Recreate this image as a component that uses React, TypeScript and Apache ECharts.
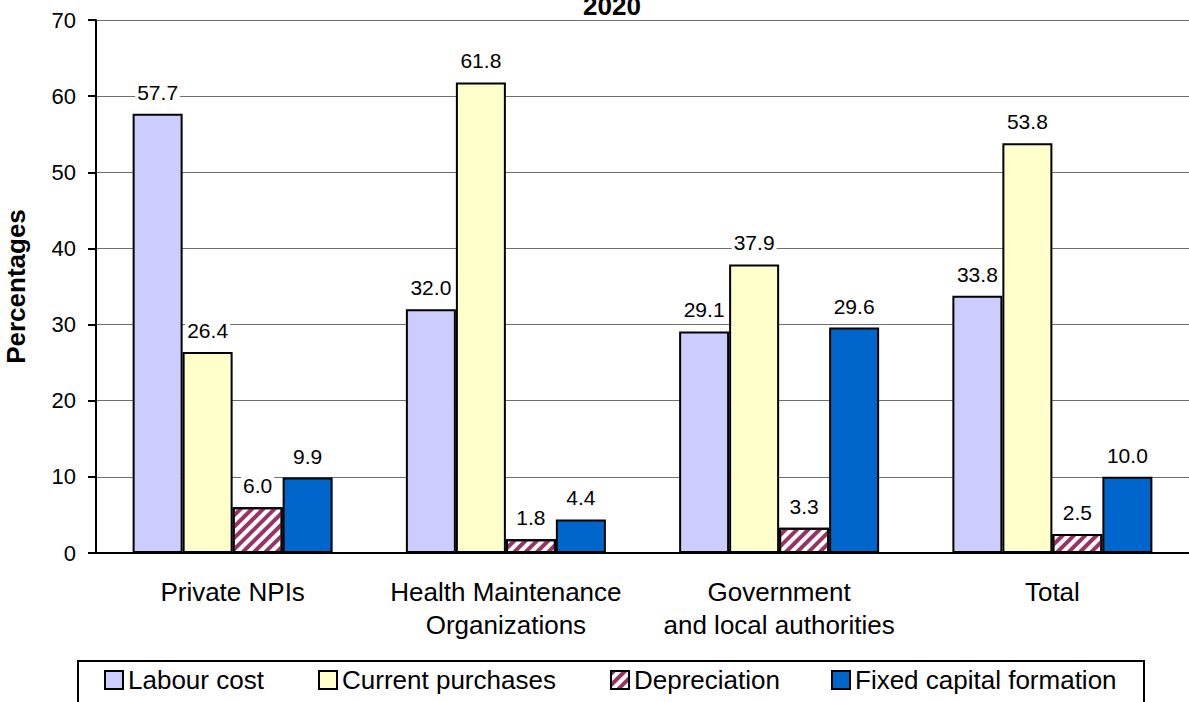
import React, { useEffect, useRef } from "react";
import * as echarts from "echarts";

const categories = [
  "Private NPIs",
  "Health Maintenance\nOrganizations",
  "Government\nand local authorities",
  "Total",
];
const labourCost = [57.7, 32.0, 29.1, 33.8];
const currentPurchases = [26.4, 61.8, 37.9, 53.8];
const depreciation = [6.0, 1.8, 3.3, 2.5];
const fixedCapital = [9.9, 4.4, 29.6, 10.0];
const seriesNames = ["Labour cost", "Current purchases", "Depreciation", "Fixed capital formation"];
const yTicks = { min: 0, max: 70, interval: 10 };
const titleText = "2020";
const yAxisTitle = "Percentages";

const FONT = "'Liberation Sans', Arial, sans-serif";

export default function App() {
  const ref = useRef<HTMLDivElement>(null);
  useEffect(() => {
    if (!ref.current) return;
    const chart = echarts.init(ref.current, null, { renderer: "svg" });
    const label = {
      show: true,
      position: "top" as const,
      distance: 10,
      fontSize: 21,
      fontFamily: FONT,
      color: "#000",
      backgroundColor: "#fff",
      padding: [1, 2],
      formatter: (p: any) => Number(p.value).toFixed(1),
    };
    const mk = (name: string, data: number[], itemStyle: any) => ({
      name,
      type: "bar",
      data,
      barWidth: 50,
      barGap: "0%",
      label,
      itemStyle: { borderColor: "#000", borderWidth: 2, ...itemStyle },
      emphasis: { disabled: true },
    });
    const legendLefts = [104, 318, 610, 831];
    const legends = seriesNames.map((n, i) => ({
      data: [n],
      left: legendLefts[i],
      top: 667,
      padding: 0,
      icon: "rect",
      itemWidth: 18,
      itemHeight: 18,
      textStyle: { fontSize: 26, fontFamily: FONT, color: "#000" },
    }));
    chart.setOption({
      animation: false,
      textStyle: { fontFamily: FONT },
      grid: {
        left: 96,
        right: 0,
        top: 20,
        bottom: 149,
        containLabel: false,
        outerBoundsMode: "none",
      },
      legend: legends,
      graphic: [
        {
          type: "text",
          x: 612,
          y: 6,
          style: {
            text: titleText,
            font: `bold 26px ${FONT}`,
            fill: "#000",
            textAlign: "center",
            textVerticalAlign: "middle",
          },
        },
        {
          type: "rect",
          shape: { x: 78, y: 661, width: 1066, height: 60 },
          style: { fill: "none", stroke: "#000", lineWidth: 2 },
          z: 10,
        },
      ],
      xAxis: {
        type: "category",
        data: categories,
        axisLine: { lineStyle: { color: "#000", width: 2 } },
        axisTick: { length: 10, lineStyle: { color: "#000", width: 2 } },
        axisLabel: {
          interval: 0,
          fontSize: 26,
          fontFamily: FONT,
          color: "#000",
          margin: 22,
          lineHeight: 33,
        },
      },
      yAxis: {
        type: "value",
        min: yTicks.min,
        max: yTicks.max,
        interval: yTicks.interval,
        name: yAxisTitle,
        nameLocation: "middle",
        nameGap: 67,
        nameTextStyle: { fontSize: 26, fontWeight: "bold", fontFamily: FONT, color: "#000" },
        axisLine: { show: true, lineStyle: { color: "#000", width: 2 } },
        axisTick: { show: true, length: 8, lineStyle: { color: "#000", width: 2 } },
        axisLabel: { fontSize: 22, fontFamily: FONT, color: "#000", margin: 20 },
        splitLine: { lineStyle: { color: "#6e6e6e", width: 1 } },
      },
      series: [
        mk(seriesNames[0], labourCost, { color: "#ccccff" }),
        mk(seriesNames[1], currentPurchases, { color: "#ffffcc" }),
        mk(seriesNames[2], depreciation, {
          color: "#ffffff",
          decal: {
            symbol: "rect",
            symbolSize: 1,
            color: "#993366",
            dashArrayX: [1, 0],
            dashArrayY: [4, 4],
            rotation: -Math.PI / 4,
          },
        }),
        mk(seriesNames[3], fixedCapital, { color: "#0066cc" }),
      ],
    });
    return () => chart.dispose();
  }, []);
  return (
    <div
      ref={ref}
      style={{ position: "fixed", left: 0, top: 0, width: 1189, height: 702, background: "#fff" }}
    />
  );
}
